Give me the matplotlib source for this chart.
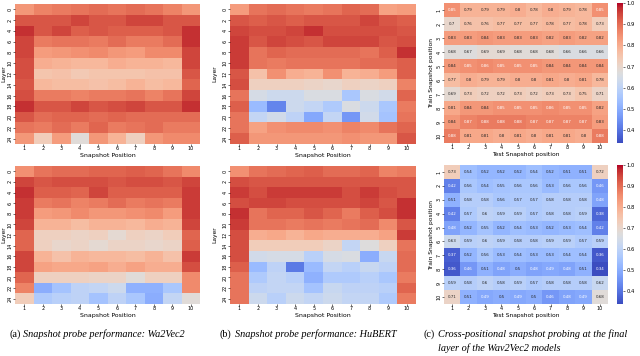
import numpy as np
import matplotlib
matplotlib.use("Agg")
import matplotlib.pyplot as plt
import seaborn as sns

layers = [str(l) for l in range(0, 25, 2)]
positions = [str(p) for p in range(1, 11)]

# (a) Wav2Vec2, top run
w2v_top = [
    [0.84, 0.87, 0.88, 0.89, 0.90, 0.89, 0.90, 0.89, 0.87, 0.84],
    [0.93, 0.93, 0.93, 0.95, 0.93, 0.93, 0.95, 0.95, 0.93, 0.93],
    [0.97, 0.93, 0.95, 0.92, 0.93, 0.92, 0.92, 0.92, 0.93, 0.97],
    [0.95, 0.88, 0.89, 0.89, 0.88, 0.90, 0.88, 0.88, 0.90, 0.97],
    [0.95, 0.83, 0.84, 0.85, 0.86, 0.84, 0.83, 0.86, 0.86, 0.95],
    [0.94, 0.80, 0.79, 0.78, 0.78, 0.80, 0.79, 0.79, 0.78, 0.95],
    [0.94, 0.75, 0.76, 0.74, 0.75, 0.75, 0.75, 0.76, 0.76, 0.93],
    [0.93, 0.78, 0.77, 0.77, 0.76, 0.77, 0.79, 0.77, 0.78, 0.91],
    [0.94, 0.88, 0.88, 0.87, 0.88, 0.88, 0.89, 0.87, 0.89, 0.95],
    [0.97, 0.93, 0.93, 0.95, 0.93, 0.94, 0.95, 0.93, 0.93, 0.97],
    [0.93, 0.90, 0.91, 0.91, 0.90, 0.91, 0.90, 0.90, 0.90, 0.90],
    [0.89, 0.88, 0.90, 0.88, 0.91, 0.88, 0.89, 0.90, 0.88, 0.88],
    [0.84, 0.73, 0.83, 0.68, 0.84, 0.79, 0.72, 0.84, 0.86, 0.86],
]
# (a) Wav2Vec2, bottom run
w2v_bot = [
    [0.85, 0.89, 0.90, 0.90, 0.91, 0.91, 0.92, 0.91, 0.89, 0.86],
    [0.95, 0.93, 0.94, 0.94, 0.94, 0.93, 0.94, 0.94, 0.93, 0.95],
    [0.97, 0.92, 0.92, 0.91, 0.95, 0.92, 0.92, 0.92, 0.92, 0.96],
    [0.96, 0.88, 0.89, 0.87, 0.88, 0.90, 0.88, 0.89, 0.88, 0.96],
    [0.96, 0.83, 0.84, 0.86, 0.84, 0.84, 0.85, 0.86, 0.83, 0.96],
    [0.95, 0.79, 0.79, 0.77, 0.79, 0.79, 0.78, 0.80, 0.79, 0.95],
    [0.91, 0.72, 0.72, 0.71, 0.72, 0.69, 0.72, 0.71, 0.73, 0.91],
    [0.91, 0.72, 0.70, 0.71, 0.69, 0.71, 0.71, 0.70, 0.71, 0.92],
    [0.95, 0.79, 0.76, 0.79, 0.78, 0.78, 0.77, 0.79, 0.76, 0.96],
    [0.95, 0.82, 0.81, 0.81, 0.82, 0.80, 0.82, 0.80, 0.80, 0.94],
    [0.91, 0.72, 0.72, 0.72, 0.71, 0.71, 0.68, 0.72, 0.72, 0.86],
    [0.87, 0.50, 0.55, 0.60, 0.61, 0.63, 0.51, 0.51, 0.56, 0.86],
    [0.73, 0.57, 0.59, 0.60, 0.55, 0.60, 0.56, 0.50, 0.61, 0.68],
]
# (b) HuBERT, top run
hub_top = [
    [0.83, 0.89, 0.90, 0.89, 0.88, 0.89, 0.91, 0.90, 0.82, 0.83],
    [0.93, 0.92, 0.93, 0.92, 0.93, 0.93, 0.93, 0.95, 0.93, 0.92],
    [0.95, 0.94, 0.94, 0.95, 0.97, 0.94, 0.94, 0.94, 0.94, 0.93],
    [0.96, 0.93, 0.95, 0.94, 0.93, 0.95, 0.95, 0.95, 0.93, 0.94],
    [0.96, 0.89, 0.91, 0.90, 0.90, 0.90, 0.90, 0.89, 0.92, 0.97],
    [0.96, 0.89, 0.88, 0.89, 0.89, 0.89, 0.89, 0.90, 0.90, 0.92],
    [0.93, 0.76, 0.85, 0.80, 0.79, 0.85, 0.79, 0.80, 0.83, 0.92],
    [0.94, 0.72, 0.72, 0.72, 0.71, 0.70, 0.72, 0.71, 0.72, 0.87],
    [0.89, 0.65, 0.63, 0.63, 0.66, 0.66, 0.56, 0.66, 0.64, 0.91],
    [0.92, 0.53, 0.43, 0.63, 0.61, 0.57, 0.66, 0.63, 0.56, 0.88],
    [0.89, 0.61, 0.64, 0.60, 0.49, 0.61, 0.46, 0.64, 0.55, 0.89],
    [0.89, 0.82, 0.85, 0.86, 0.86, 0.85, 0.87, 0.86, 0.89, 0.91],
    [0.92, 0.84, 0.84, 0.84, 0.84, 0.84, 0.85, 0.84, 0.84, 0.93],
]
# (b) HuBERT, bottom run
hub_bot = [
    [0.85, 0.89, 0.90, 0.91, 0.92, 0.90, 0.90, 0.91, 0.87, 0.88],
    [0.94, 0.93, 0.93, 0.93, 0.93, 0.93, 0.93, 0.93, 0.93, 0.93],
    [0.96, 0.94, 0.96, 0.96, 0.96, 0.96, 0.94, 0.96, 0.94, 0.93],
    [0.94, 0.95, 0.95, 0.94, 0.94, 0.94, 0.94, 0.95, 0.93, 0.97],
    [0.97, 0.89, 0.91, 0.91, 0.93, 0.91, 0.88, 0.92, 0.94, 0.97],
    [0.96, 0.89, 0.89, 0.88, 0.89, 0.88, 0.89, 0.90, 0.86, 0.93],
    [0.94, 0.80, 0.81, 0.79, 0.81, 0.80, 0.80, 0.80, 0.82, 0.96],
    [0.94, 0.73, 0.73, 0.73, 0.73, 0.71, 0.61, 0.67, 0.72, 0.89],
    [0.94, 0.64, 0.65, 0.65, 0.59, 0.65, 0.66, 0.50, 0.62, 0.90],
    [0.92, 0.53, 0.60, 0.41, 0.53, 0.61, 0.59, 0.62, 0.60, 0.90],
    [0.89, 0.57, 0.61, 0.59, 0.51, 0.57, 0.57, 0.59, 0.56, 0.88],
    [0.89, 0.60, 0.61, 0.61, 0.55, 0.62, 0.60, 0.60, 0.59, 0.91],
    [0.89, 0.63, 0.59, 0.63, 0.61, 0.63, 0.61, 0.61, 0.57, 0.88],
]
# (c) cross-positional probing, top
cross_top = [
    [0.85, 0.79, 0.79, 0.79, 0.8, 0.78, 0.8, 0.79, 0.78, 0.85],
    [0.7, 0.76, 0.76, 0.77, 0.77, 0.77, 0.78, 0.77, 0.78, 0.73],
    [0.83, 0.83, 0.84, 0.83, 0.83, 0.83, 0.82, 0.83, 0.82, 0.82],
    [0.68, 0.67, 0.69, 0.69, 0.68, 0.68, 0.68, 0.66, 0.66, 0.66],
    [0.84, 0.85, 0.86, 0.85, 0.85, 0.85, 0.84, 0.84, 0.84, 0.84],
    [0.77, 0.8, 0.79, 0.79, 0.8, 0.8, 0.81, 0.8, 0.81, 0.78],
    [0.69, 0.73, 0.72, 0.72, 0.73, 0.72, 0.73, 0.73, 0.75, 0.71],
    [0.81, 0.84, 0.84, 0.85, 0.85, 0.85, 0.86, 0.85, 0.85, 0.82],
    [0.84, 0.87, 0.88, 0.88, 0.88, 0.87, 0.87, 0.87, 0.87, 0.83],
    [0.88, 0.81, 0.81, 0.8, 0.81, 0.8, 0.81, 0.81, 0.8, 0.88],
]
# (c) cross-positional probing, bottom
cross_bot = [
    [0.73, 0.54, 0.52, 0.52, 0.52, 0.54, 0.52, 0.51, 0.51, 0.72],
    [0.42, 0.56, 0.54, 0.55, 0.56, 0.56, 0.53, 0.56, 0.56, 0.46],
    [0.51, 0.58, 0.58, 0.56, 0.57, 0.57, 0.58, 0.58, 0.58, 0.48],
    [0.42, 0.57, 0.6, 0.59, 0.59, 0.57, 0.58, 0.58, 0.59, 0.38],
    [0.48, 0.52, 0.55, 0.52, 0.54, 0.53, 0.52, 0.53, 0.54, 0.42],
    [0.63, 0.59, 0.6, 0.59, 0.58, 0.58, 0.59, 0.59, 0.57, 0.59],
    [0.37, 0.52, 0.56, 0.53, 0.54, 0.53, 0.53, 0.54, 0.54, 0.36],
    [0.36, 0.46, 0.51, 0.48, 0.5, 0.48, 0.49, 0.48, 0.51, 0.34],
    [0.59, 0.58, 0.6, 0.58, 0.59, 0.57, 0.58, 0.58, 0.58, 0.62],
    [0.71, 0.51, 0.49, 0.5, 0.49, 0.5, 0.46, 0.48, 0.49, 0.68],
]

captions = [
    ("(a)", ["Snapshot probe performance: Wa2Vec2"]),
    ("(b)", ["Snapshot probe performance: HuBERT"]),
    ("(c)", ["Cross-positional snapshot probing at the final",
             "layer of the Wav2Vec2 models"]),
]

VMIN, VMAX = 0.34, 1.0
W, H = 640, 356

fig = plt.figure(figsize=(6.4, 3.56), dpi=100)


def px_axes(x0, y0, x1, y1):
    return fig.add_axes([x0 / W, 1 - y1 / H, (x1 - x0) / W, (y1 - y0) / H])


def layer_map(ax, data, ylab_x):
    sns.heatmap(np.array(data), ax=ax, cmap="coolwarm", vmin=VMIN, vmax=VMAX,
                cbar=False, xticklabels=positions, yticklabels=layers)
    ax.set_xlabel("Snapshot Position", fontsize=4.5, labelpad=1.5)
    ax.set_ylabel("Layer", fontsize=4.3)
    ax.yaxis.set_label_coords(ylab_x, 0.5)
    ax.tick_params(labelsize=3.5, length=1.2, width=0.4, pad=0.5)
    ax.set_yticklabels(layers, rotation=90, va="center")
    ax.set_xticklabels(positions, rotation=0)


def cross_map(ax, cax, data):
    sns.heatmap(np.array(data), ax=ax, cmap="coolwarm", vmin=VMIN, vmax=VMAX,
                annot=True, fmt="g", annot_kws={"fontsize": 2.9},
                cbar_ax=cax, xticklabels=positions, yticklabels=positions)
    ax.set_xlabel("Test Snapshot position", fontsize=4.3, labelpad=1.5)
    ax.set_ylabel("Train Snapshot position", fontsize=4.3)
    ax.yaxis.set_label_coords(-0.058, 0.5)
    ax.tick_params(labelsize=3.5, length=1.2, width=0.4, pad=0.5)
    ax.set_yticklabels(positions, rotation=90, va="center")
    ax.set_xticklabels(positions, rotation=0)
    cax.tick_params(labelsize=3.8, length=1.5, width=0.4, pad=1)
    cax.set_yticks([0.4, 0.5, 0.6, 0.7, 0.8, 0.9, 1.0])


layer_map(px_axes(15, 4, 200, 144), w2v_top, -0.048)
layer_map(px_axes(15, 166, 200, 304), w2v_bot, -0.048)
layer_map(px_axes(230, 4, 416, 144), hub_top, -0.067)
layer_map(px_axes(230, 166, 416, 304), hub_bot, -0.067)
cross_map(px_axes(444, 3, 608, 143), px_axes(617, 3, 623, 143), cross_top)
cross_map(px_axes(444, 165, 608, 304), px_axes(617, 165, 623, 304), cross_bot)

# captions: upright panel letter, italic text after it
serif = "Liberation Serif"
cap = dict(fontsize=7.4, family=serif, va="center")
starts = [9, 220, 424]
line_y = [334, 348]
fig.canvas.draw()
renderer = fig.canvas.get_renderer()
for (tag, lines), x0 in zip(captions, starts):
    t = fig.text(x0 / W, 1 - line_y[0] / H, tag, **cap)
    x1 = t.get_window_extent(renderer).x1 + 3
    for i, line in enumerate(lines):
        fig.text(x1 / W, 1 - line_y[i] / H, line, style="italic", **cap)

fig.savefig("out.png", dpi=100)
